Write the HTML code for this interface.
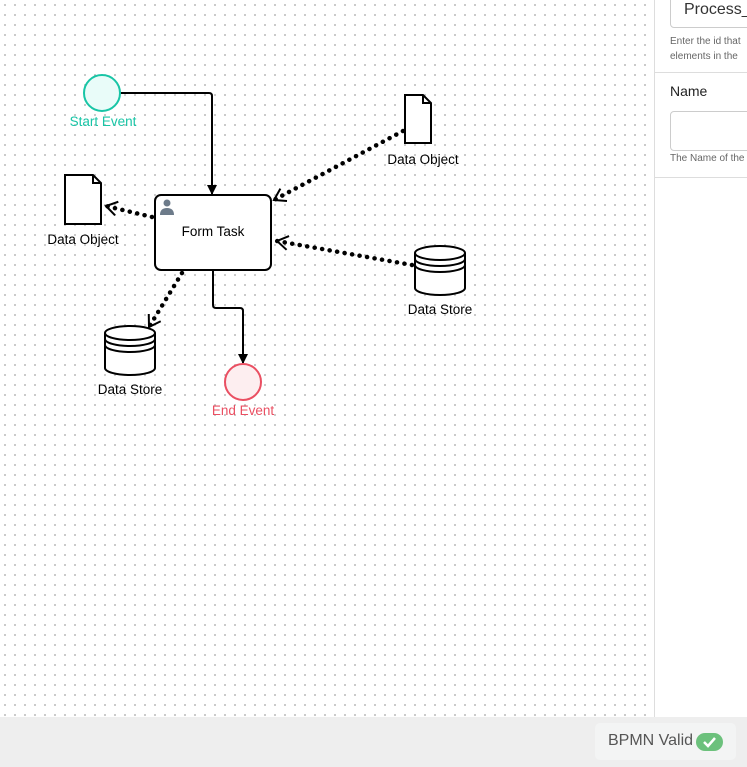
<!DOCTYPE html>
<html><head><style>
body{margin:0;width:747px;height:767px;overflow:hidden;font-family:"Liberation Sans",sans-serif;background:#fff;position:relative}
#canvas{position:absolute;left:0;top:0;width:654px;height:717px;background-image:radial-gradient(circle,#b8b8b8 0.8px,transparent 1px);background-size:10px 10px;background-position:0 0}
#panel{position:absolute;left:654px;top:0;width:93px;height:717px;border-left:1px solid #ddd;background:#fff;overflow:hidden}
#bar{position:absolute;left:0;top:717px;width:747px;height:50px;background:#eeeeee}
</style></head><body>
<div id="canvas"></div>
<svg style="position:absolute;left:0;top:0" width="654" height="717">
<defs>
<marker id="ah" markerWidth="10" markerHeight="10" refX="9" refY="5" orient="auto" markerUnits="userSpaceOnUse"><path d="M0,0 L10,5 L0,10 Z" fill="#000"/></marker>
<marker id="oa" markerWidth="14" markerHeight="16" refX="12" refY="8" orient="auto" markerUnits="userSpaceOnUse"><path d="M1,1 L12,8 L1,15" fill="none" stroke="#000" stroke-width="2"/></marker>
</defs>
<g fill="none" stroke="#000" stroke-width="2">
<path d="M120,93 H209 Q212,93 212,96 V194" marker-end="url(#ah)"/>
<path d="M213,270 V305 Q213,308 216,308 H240 Q243,308 243,311 V363" marker-end="url(#ah)"/>
<g stroke-width="4.5" stroke-dasharray="0.1 7.5" stroke-linecap="round">
<path d="M403,131 L274,200" marker-end="url(#oa)"/>
<path d="M412,265 L277,241" marker-end="url(#oa)"/>
<path d="M152,217 L106,206" marker-end="url(#oa)"/>
<path d="M182,273 L149,327" marker-end="url(#oa)"/>
</g>
<rect x="155" y="195" width="116" height="75" rx="6" fill="#fff"/>
<path d="M405,95 H423 L431,103 V143 H405 Z" fill="#fff"/><path d="M423,95 V103 H431"/>
<path d="M65,175 H93 L101,183 V224 H65 Z" fill="#fff"/><path d="M93,175 V183 H101"/>
<g fill="#fff">
<path d="M415,253 V288 A25,7 0 0 0 465,288 V253"/><ellipse cx="440" cy="253" rx="25" ry="7"/>
<path d="M415,259 A25,7 0 0 0 465,259 M415,265 A25,7 0 0 0 465,265" fill="none"/>
<path d="M105,333 V368 A25,7 0 0 0 155,368 V333"/><ellipse cx="130" cy="333" rx="25" ry="7"/>
<path d="M105,339 A25,7 0 0 0 155,339 M105,345 A25,7 0 0 0 155,345" fill="none"/>
</g>
</g>
<circle cx="102" cy="93" r="18" fill="#e9fcf9" stroke="#18c5a6" stroke-width="2"/>
<circle cx="243" cy="382" r="18" fill="#fdeef0" stroke="#ea4f62" stroke-width="2"/>
<circle cx="167" cy="203" r="3.5" fill="#6d7b8a"/><path d="M160,215 Q160,208 167,208 Q174,208 174,215 Z" fill="#6d7b8a"/>
<g font-size="13.5" text-anchor="middle" font-family="Liberation Sans,sans-serif">
<text x="103" y="126" fill="#18c5a6">Start Event</text>
<text x="243" y="415" fill="#ea4f62">End Event</text>
<text x="213" y="236">Form Task</text>
<text x="423" y="164">Data Object</text>
<text x="83" y="244">Data Object</text>
<text x="440" y="314">Data Store</text>
<text x="130" y="394">Data Store</text>
</g>
</svg>
<div id="panel">
<div style="position:absolute;left:15px;top:-10px;width:100px;height:38px;border:1px solid #ccc;border-radius:4px;font-size:16px;color:#333;padding:10px 0 0 13px;box-sizing:border-box">Process_1</div>
<div style="position:absolute;left:15px;top:34px;font-size:10px;color:#666;line-height:15px;white-space:nowrap">Enter the id that<br>elements in the</div>
<div style="position:absolute;left:0;top:72px;width:100px;border-top:1px solid #ddd"></div>
<div style="position:absolute;left:15px;top:83px;font-size:14px;color:#222">Name</div>
<div style="position:absolute;left:15px;top:111px;width:100px;height:38px;border:1px solid #ccc;border-radius:4px"></div>
<div style="position:absolute;left:15px;top:153px;font-size:10px;color:#666;white-space:nowrap">The Name of the</div>
<div style="position:absolute;left:0;top:177px;width:100px;border-top:1px solid #ddd"></div>
</div>
<div id="bar">
<div style="position:absolute;left:595px;top:6px;width:141px;height:37px;background:#f3f4f4;border-radius:5px"></div>
<div style="position:absolute;left:608px;top:15px;font-size:16px;color:#555">BPMN Valid</div>
<div style="position:absolute;left:696px;top:16px;width:27px;height:18px;border-radius:9px;background:#6cc17c"></div>
<svg style="position:absolute;left:702px;top:19px" width="15" height="12"><path d="M2,6 L6,10 L13,2" fill="none" stroke="#fff" stroke-width="2.5"/></svg>
</div>
</body></html>
